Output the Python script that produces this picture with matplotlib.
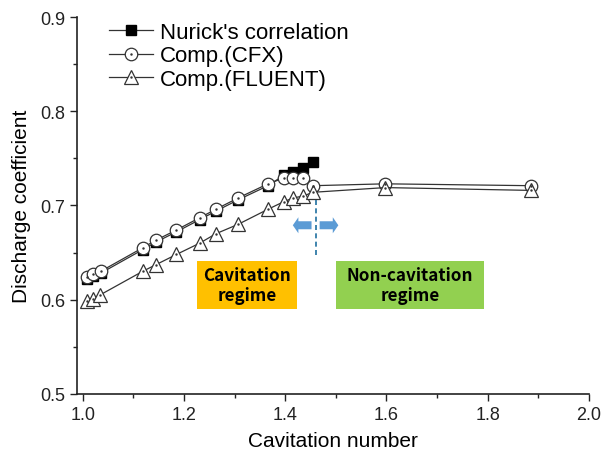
"""Discharge coefficient vs cavitation number (Nurick / CFX / FLUENT)."""
import matplotlib

matplotlib.use("Agg")
import matplotlib.pyplot as plt
from matplotlib.legend_handler import HandlerTuple
from matplotlib.patches import FancyArrow, Rectangle
from matplotlib.ticker import MultipleLocator

plt.rcParams["font.family"] = ["Liberation Sans", "DejaVu Sans"]

# Data
cfx_k = [1.009, 1.021, 1.035, 1.118, 1.144, 1.185, 1.231, 1.263, 1.307,
         1.366, 1.397, 1.416, 1.435, 1.455, 1.598, 1.886]
cfx_cd = [0.624, 0.627, 0.630, 0.655, 0.663, 0.674, 0.687, 0.696, 0.708,
          0.723, 0.729, 0.729, 0.729, 0.721, 0.723, 0.721]

fluent_k = [1.008, 1.020, 1.034, 1.118, 1.144, 1.185, 1.231, 1.263, 1.307,
            1.366, 1.397, 1.416, 1.435, 1.455, 1.598, 1.886]
fluent_cd = [0.599, 0.601, 0.605, 0.630, 0.637, 0.648, 0.660, 0.670, 0.680,
             0.696, 0.704, 0.708, 0.710, 0.714, 0.719, 0.716]

nurick_k = [1.009, 1.021, 1.035, 1.118, 1.144, 1.185, 1.231, 1.263, 1.307,
            1.366, 1.397, 1.416, 1.435, 1.455]
nurick_cd = [0.622, 0.625, 0.628, 0.653, 0.661, 0.672, 0.685, 0.694, 0.706,
             0.721, 0.732, 0.736, 0.740, 0.746]

regime_split = 1.46
labels = ["Nurick's correlation", "Comp.(CFX)", "Comp.(FLUENT)"]


def main() -> None:
    fig = plt.figure(figsize=(6.14, 4.64), dpi=100)
    ax = fig.add_axes([0.125, 0.149, 0.834, 0.812])

    line_kw = dict(color="#333333", linewidth=0.9)
    (nur,) = ax.plot(nurick_k, nurick_cd, marker="s", markersize=7.5,
                     markerfacecolor="black", markeredgecolor="black", **line_kw)
    (cfx,) = ax.plot(cfx_k, cfx_cd, marker="o", markersize=9,
                     markerfacecolor="white", markeredgecolor="#333333",
                     markeredgewidth=0.9, **line_kw)
    (flu,) = ax.plot(fluent_k, fluent_cd, marker="^", markersize=10,
                     markerfacecolor="white", markeredgecolor="#333333",
                     markeredgewidth=0.9, **line_kw)
    # Origin-style centre dots
    (cfx_dot,) = ax.plot(cfx_k, cfx_cd, linestyle="none", marker=".",
                         markersize=1.5, color="#333333")
    (flu_dot,) = ax.plot(fluent_k, fluent_cd, linestyle="none", marker=".",
                         markersize=1.5, color="#333333")

    # regime divider and arrows
    ax.plot([regime_split, regime_split], [0.647, 0.708], color="#1f6f9f",
            linestyle=(0, (3, 2)), linewidth=1.2)
    arrow_kw = dict(width=0.0085, head_width=0.017, head_length=0.011,
                    length_includes_head=True, color="#5b9bd5", linewidth=0)
    ax.add_patch(FancyArrow(1.452, 0.679, -0.037, 0, **arrow_kw))
    ax.add_patch(FancyArrow(1.468, 0.679, 0.037, 0, **arrow_kw))

    # regime boxes
    box_font = dict(family=["Noto Sans CJK KR", "DejaVu Sans"],
                    fontweight="bold", fontsize=12.3, ha="center", va="center",
                    linespacing=1.1)
    ax.add_patch(Rectangle((1.225, 0.590), 0.198, 0.0515, color="#ffc000",
                           linewidth=0, zorder=3))
    ax.text(1.324, 0.6157, "Cavitation\nregime", zorder=4, **box_font)
    ax.add_patch(Rectangle((1.500, 0.590), 0.293, 0.0515, color="#92d050",
                           linewidth=0, zorder=3))
    ax.text(1.6465, 0.6157, "Non-cavitation\nregime", zorder=4, **box_font)

    ax.set_xlim(0.988, 2.0)
    ax.set_ylim(0.5, 0.9)
    ax.xaxis.set_major_locator(MultipleLocator(0.2))
    ax.xaxis.set_minor_locator(MultipleLocator(0.1))
    ax.yaxis.set_major_locator(MultipleLocator(0.1))
    ax.yaxis.set_minor_locator(MultipleLocator(0.05))
    ax.xaxis.set_major_formatter(lambda v, p: f"{v:.1f}")
    ax.yaxis.set_major_formatter(lambda v, p: f"{v:.1f}")
    ax.tick_params(which="major", direction="out", length=5, width=1,
                   labelsize=13, colors="#222222")
    ax.tick_params(which="minor", direction="out", length=3, width=1,
                   colors="#222222")
    for side in ("top", "right"):
        ax.spines[side].set_visible(False)
    for side in ("left", "bottom"):
        ax.spines[side].set_linewidth(1.2)
        ax.spines[side].set_color("#222222")

    ax.set_xlabel("Cavitation number", fontsize=15, labelpad=6)
    ax.set_ylabel("Discharge coefficient", fontsize=15, labelpad=6)

    ax.legend([nur, (cfx, cfx_dot), (flu, flu_dot)], labels,
              handler_map={tuple: HandlerTuple(ndivide=1)},
              loc="upper left", bbox_to_anchor=(0.045, 1.01), frameon=False,
              fontsize=16, handlelength=2.0, handletextpad=0.3,
              labelspacing=0.1, borderaxespad=0)

    fig.savefig("out.png", dpi=100)


if __name__ == "__main__":
    main()
